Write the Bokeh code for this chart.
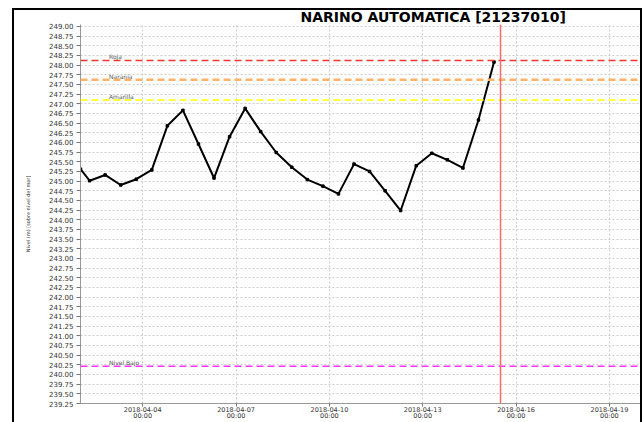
import pandas as pd
from bokeh.plotting import figure
from bokeh.models import (Range1d, Span, FixedTicker, DatetimeAxis,
                          PrintfTickFormatter, DatetimeTickFormatter, ColumnDataSource)
from bokeh.embed import file_html
from bokeh.resources import INLINE
from bokeh.core.properties import value

title_text = "NARINO  AUTOMATICA [21237010]"
y_label = "Nivel (m) [sobre nivel del mar]"

times = ["2018-04-02 00:00", "2018-04-02 07:00", "2018-04-02 19:00", "2018-04-03 07:00",
         "2018-04-03 19:00", "2018-04-04 07:00", "2018-04-04 19:00", "2018-04-05 07:00",
         "2018-04-05 19:00", "2018-04-06 07:00", "2018-04-06 19:00", "2018-04-07 07:00",
         "2018-04-07 19:00", "2018-04-08 07:00", "2018-04-08 19:00", "2018-04-09 07:00",
         "2018-04-09 19:00", "2018-04-10 07:00", "2018-04-10 19:00", "2018-04-11 07:00",
         "2018-04-11 19:00", "2018-04-12 07:00", "2018-04-12 19:00", "2018-04-13 07:00",
         "2018-04-13 19:00", "2018-04-14 07:00", "2018-04-14 19:00", "2018-04-15 07:00"]
levels = [245.31, 245.01, 245.16, 244.90, 245.05, 245.29, 246.43, 246.83,
          245.96, 245.08, 246.15, 246.88, 246.28, 245.74, 245.36, 245.04,
          244.87, 244.67, 245.44, 245.25, 244.75, 244.24, 245.40, 245.72,
          245.55, 245.34, 246.58, 248.08]

threshold_names = ["Roja", "Naranja", "Amarilla", "Nivel Bajo"]
threshold_values = [248.12, 247.62, 247.10, 240.21]
threshold_colors = ["#f03434", "#f9b46a", "#ffff3a", "#ff33ff"]
threshold_widths = [1.5, 2.5, 2, 1.5]
threshold_label_time = "2018-04-02 22:00"

x_tick_dates = ["2018-04-04", "2018-04-07", "2018-04-10", "2018-04-13", "2018-04-16", "2018-04-19"]
y_ticks = [239.25 + 0.25 * i for i in range(40)]
now_time = "2018-04-15 12:00"
x_start, x_end = "2018-04-02 00:00", "2018-04-20 00:00"
y_start, y_end = 239.25, 249.05


def ms(s):
    return pd.Timestamp(s).value // 10**6


t = [pd.Timestamp(s) for s in times]
src = ColumnDataSource(dict(t=t, v=levels))

p = figure(width=626, height=412, x_axis_type="datetime", output_backend="svg",
           toolbar_location=None, min_border_left=66, min_border_right=0,
           min_border_top=14, min_border_bottom=16,
           x_range=Range1d(pd.Timestamp(x_start), pd.Timestamp(x_end)),
           y_range=Range1d(y_start, y_end))
p.outline_line_color = None
p.background_fill_color = "white"
p.border_fill_color = "white"
p.styles = {"margin-left": "14px", "margin-top": "10px", "outline": "2px solid black"}

# title
p.title.text = title_text
p.title.align = "left"
p.title.offset = 220
p.title.standoff = -4
p.title.vertical_align = "top"
p.title.text_font = "DejaVu Sans"
p.title.text_font_style = "bold"
p.title.text_font_size = "14px"
p.title.text_color = "black"

xticker = FixedTicker(ticks=[ms(d) for d in x_tick_dates])
xaxis = p.below[0]
xaxis.ticker = xticker
xaxis.formatter = DatetimeTickFormatter(days="%Y-%m-%d", months="%Y-%m-%d", hours="%Y-%m-%d",
                                        years="%Y-%m-%d", context=None)
xaxis2 = DatetimeAxis(ticker=xticker,
                      formatter=DatetimeTickFormatter(days="%H:%M", months="%H:%M",
                                                      hours="%H:%M", years="%H:%M", context=None))
p.add_layout(xaxis2, "below")

yaxis = p.left[0]
yaxis.ticker = FixedTicker(ticks=y_ticks)
yaxis.formatter = PrintfTickFormatter(format="%.2f")

for g in (p.xgrid, p.ygrid):
    g.grid_line_color = "#cccccc"
    g.grid_line_dash = "2 2"
    g.grid_line_width = 1

for ax in (xaxis, xaxis2, yaxis):
    ax.axis_line_color = "#999999"
    ax.major_tick_line_color = "#777777"
    ax.major_tick_in = 0
    ax.minor_tick_line_color = None
    ax.major_label_text_font = "DejaVu Sans"
    ax.major_label_text_color = "#333333"

yaxis.major_label_text_font_size = "7px"
xaxis.major_label_text_font_size = "6.5px"
xaxis2.major_label_text_font_size = "6.5px"
yaxis.major_tick_out = 4
yaxis.major_label_standoff = 3
xaxis.major_tick_out = 3
xaxis.major_label_standoff = 0
xaxis2.axis_line_color = None
xaxis2.major_tick_line_color = None
xaxis2.major_tick_out = 0
xaxis2.major_label_standoff = -3

yaxis.axis_label = y_label
yaxis.axis_label_text_font = "DejaVu Sans"
yaxis.axis_label_text_font_size = "5px"
yaxis.axis_label_text_font_style = "normal"
yaxis.axis_label_text_color = "#333333"
yaxis.axis_label_standoff = 15

# thresholds
for v, c, w in zip(threshold_values, threshold_colors, threshold_widths):
    p.add_layout(Span(location=v, dimension="width", line_color=c, line_width=w,
                      line_dash="7 4"))
lab_src = ColumnDataSource(dict(x=[pd.Timestamp(threshold_label_time)] * len(threshold_names),
                                y=threshold_values, text=threshold_names))
p.text(x="x", y="y", text="text", source=lab_src, text_font=value("DejaVu Sans"),
       text_font_size="6px", text_color="#555555", text_baseline="bottom", text_align="left")

# current time marker
p.add_layout(Span(location=ms(now_time), dimension="height", line_color="#ff6a6a",
                  line_width=1.5))

# series
p.line(x="t", y="v", source=src, line_color="black", line_width=2)
p.scatter(x="t", y="v", source=src, size=2.5, marker="square", color="black")

open("out.html", "w").write(file_html(p, INLINE))
